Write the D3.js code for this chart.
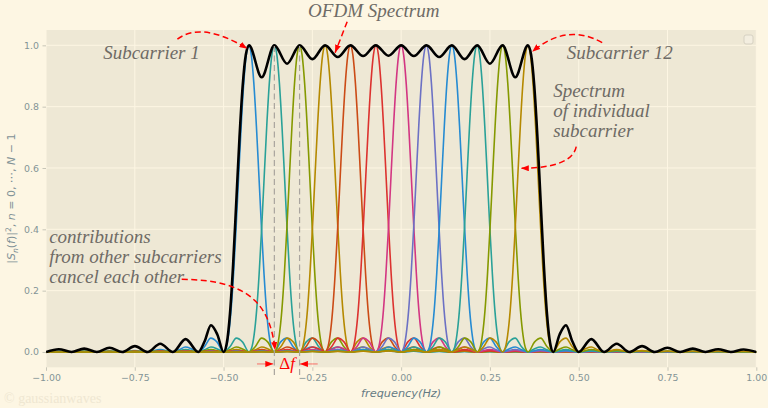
<!DOCTYPE html>
<html>
<head>
<meta charset="utf-8">
<script src="https://cdn.jsdelivr.net/npm/d3@7"></script>
<style>
  body { margin: 0; background: #fdf6e3; }
  svg { display: block; }
</style>
</head>
<body>
<div id="chart"></div>
<script>
// centre frequency of each subcarrier (Hz)
let subcarrierFreq = [-0.429, -0.357, -0.286, -0.214, -0.143, -0.071, 0.000, 0.071, 0.143, 0.214, 0.286, 0.357];
let deltaF = 0.0714;

// shape of one subcarrier |S(f)|^2, offset in units of deltaF (right half, mirrored below)
let pulseBin   = [0, 0.1, 0.2, 0.3, 0.4, 0.5, 0.6, 0.7, 0.8, 0.9, 1, 1.25, 1.5, 1.75, 2, 2.25, 2.5, 2.75, 3, 3.5, 4, 4.5, 5, 5.5, 6, 6.5, 7, 7.5, 8, 8.5, 9, 9.5, 10, 21];
let pulseLevel = [1, 0.968, 0.875, 0.737, 0.573, 0.405, 0.255, 0.135, 0.055, 0.012, 0, 0.032, 0.045, 0.017, 0, 0.010, 0.016, 0.007, 0, 0.008, 0, 0.005, 0, 0.0034, 0, 0.0024, 0, 0.0018, 0, 0.0014, 0, 0.0011, 0, 0];

// OFDM spectrum (black line), position in units of deltaF
let ofdmBin = [-14, -13.5, -13, -12.5, -12, -11.5, -11, -10.5, -10, -9.5, -9, -8.5, -8, -7.75, -7.5, -7.25, -7,
  -6.875, -6.75, -6.625, -6.5, -6.375, -6.25, -6.125, -6, -5.5, -5, -4.5, -4, -3.5, -3, -2.5, -2, -1.5, -1, -0.5,
  0, 0.5, 1, 1.5, 2, 2.5, 3, 3.5, 4, 4.5, 5, 5.125, 5.25, 5.375, 5.5, 5.625, 5.75, 5.875, 6, 6.25, 6.5, 6.75, 7,
  7.5, 8, 8.5, 9, 9.5, 10, 10.5, 11, 11.5, 12, 12.5, 13, 13.5, 14];
let ofdmLevel = [0, 0.009, 0, 0.011, 0, 0.014, 0, 0.019, 0, 0.027, 0, 0.042, 0, 0.035, 0.087, 0.057, 0,
  0.029, 0.125, 0.287, 0.492, 0.699, 0.867, 0.969, 1, 0.896, 1, 0.940, 1, 0.955, 1, 0.962, 1, 0.965, 1, 0.966,
  1, 0.965, 1, 0.962, 1, 0.955, 1, 0.940, 1, 0.896, 1, 0.969, 0.867, 0.699, 0.492, 0.287, 0.125, 0.029, 0, 0.057, 0.087, 0.035, 0,
  0.042, 0, 0.027, 0, 0.019, 0, 0.014, 0, 0.011, 0, 0.009, 0, 0.008, 0];

let xTicks = [-1, -0.75, -0.5, -0.25, 0, 0.25, 0.5, 0.75, 1];
let yTicks = [0, 0.2, 0.4, 0.6, 0.8, 1.0];

let colors = ["#268BD2", "#2AA198", "#859900", "#B58900", "#CB4B16", "#DC322F", "#D33682", "#6C71C4"];

let width = 768, height = 408;
let margin = { top: 30, right: 11.7, bottom: 40.7, left: 46 };

let svg = d3.select("#chart").append("svg")
  .attr("width", width)
  .attr("height", height);

svg.append("rect").attr("width", width).attr("height", height).attr("fill", "#fdf6e3");

let x = d3.scaleLinear().domain([-1, 1]).range([margin.left, width - margin.right]);
let y = d3.scaleLinear().domain([-0.05, 1.05]).range([height - margin.bottom, margin.top]);

let defs = svg.append("defs");
defs.append("clipPath").attr("id", "plot")
  .append("rect")
  .attr("x", x(-1)).attr("y", y(1.05))
  .attr("width", x(1) - x(-1)).attr("height", y(-0.05) - y(1.05));

defs.append("marker")
  .attr("id", "head")
  .attr("viewBox", "0 0 8 6")
  .attr("refX", 8).attr("refY", 3)
  .attr("markerWidth", 8).attr("markerHeight", 6)
  .attr("markerUnits", "userSpaceOnUse")
  .attr("orient", "auto")
  .append("path").attr("d", "M0,0 L8,3 L0,6 z").attr("fill", "#ff0000");

// axes background
svg.append("rect")
  .attr("x", x(-1)).attr("y", y(1.05))
  .attr("width", x(1) - x(-1)).attr("height", y(-0.05) - y(1.05))
  .attr("fill", "#eee8d5");

// grid
let grid = svg.append("g").attr("stroke", "#fdf6e3").attr("stroke-width", 1);
grid.selectAll(".gx").data(xTicks).enter().append("line")
  .attr("x1", d => x(d)).attr("x2", d => x(d))
  .attr("y1", y(-0.05)).attr("y2", y(1.05));
grid.selectAll(".gy").data(yTicks).enter().append("line")
  .attr("x1", x(-1)).attr("x2", x(1))
  .attr("y1", d => y(d)).attr("y2", d => y(d));

// axes
let xAxis = svg.append("g")
  .attr("transform", `translate(0,${y(-0.05)})`)
  .call(d3.axisBottom(x).tickValues(xTicks).tickFormat(d3.format(".2f")).tickSize(3.5).tickPadding(4));
let yAxis = svg.append("g")
  .attr("transform", `translate(${x(-1)},0)`)
  .call(d3.axisLeft(y).tickValues(yTicks).tickFormat(d3.format(".1f")).tickSize(3.5).tickPadding(3.5));

[xAxis, yAxis].forEach(a => {
  a.select(".domain").remove();
  a.selectAll(".tick line").attr("stroke", "#c8c6b8");
  a.selectAll(".tick text")
    .attr("fill", "#839496")
    .attr("font-family", "DejaVu Sans")
    .attr("font-size", "9.4px");
});

// curves
let line = d3.line()
  .x(d => x(d[0]))
  .y(d => y(d[1]))
  .curve(d3.curveMonotoneX);

let pulseShape = [];
for (let i = pulseBin.length - 1; i > 0; i--) pulseShape.push([-pulseBin[i], pulseLevel[i]]);
for (let i = 0; i < pulseBin.length; i++) pulseShape.push([pulseBin[i], pulseLevel[i]]);

let plot = svg.append("g").attr("clip-path", "url(#plot)");

plot.selectAll(".sub")
  .data(subcarrierFreq)
  .enter()
  .append("path")
  .attr("class", "sub")
  .attr("fill", "none")
  .attr("stroke", (d, i) => colors[i % colors.length])
  .attr("stroke-width", 1.6)
  .attr("d", fc => line(pulseShape.map(p => [fc + p[0] * deltaF, p[1]])));

// spacing markers
svg.selectAll(".vl")
  .data([subcarrierFreq[1], subcarrierFreq[2]])
  .enter()
  .append("line")
  .attr("x1", d => x(d)).attr("x2", d => x(d))
  .attr("y1", y(-0.075)).attr("y2", y(1.0))
  .attr("stroke", "#a9a49e")
  .attr("stroke-width", 1.2)
  .attr("stroke-dasharray", "6,3.5");

plot.append("path")
  .attr("fill", "none")
  .attr("stroke", "#000")
  .attr("stroke-width", 2.6)
  .attr("stroke-linejoin", "round")
  .attr("d", line(ofdmBin.map((b, i) => [b * deltaF, ofdmLevel[i]])));

// empty legend box
svg.append("rect")
  .attr("x", 744).attr("y", 35).attr("width", 9).attr("height", 9).attr("rx", 2)
  .attr("fill", "#f3eee0").attr("stroke", "#d6d1c2").attr("stroke-width", 1);

// labels
svg.append("text")
  .attr("x", x(0)).attr("y", 397)
  .attr("text-anchor", "middle")
  .attr("font-family", "DejaVu Sans")
  .attr("font-style", "italic")
  .attr("font-size", "11.3px")
  .attr("fill", "#657b83")
  .text("frequency(Hz)");

let ylab = svg.append("text")
  .attr("transform", `translate(15,${(y(1.05) + y(-0.05)) / 2}) rotate(-90)`)
  .attr("text-anchor", "middle")
  .attr("font-family", "DejaVu Sans")
  .attr("font-size", "11px")
  .attr("fill", "#7f9196");
ylab.append("tspan").text("|");
ylab.append("tspan").attr("font-style", "italic").text("S");
ylab.append("tspan").attr("font-style", "italic").attr("font-size", "7.7px").attr("dy", 2.5).text("n");
ylab.append("tspan").attr("dy", -2.5).text("(");
ylab.append("tspan").attr("font-style", "italic").text("f");
ylab.append("tspan").text(")|");
ylab.append("tspan").attr("font-size", "7.7px").attr("dy", -4.5).text("2");
ylab.append("tspan").attr("dy", 4.5).text(", ");
ylab.append("tspan").attr("font-style", "italic").text("n");
ylab.append("tspan").text(" = 0, \u22ef, ");
ylab.append("tspan").attr("font-style", "italic").text("N");
ylab.append("tspan").text(" \u2212 1");

// annotations
let noteFont = "Liberation Serif";
let noteColor = "#6e6b66";

function note(fx, fy, lines, anchor) {
  let t = svg.append("text")
    .attr("font-family", noteFont)
    .attr("font-style", "italic")
    .attr("font-size", "19px")
    .attr("fill", noteColor)
    .attr("text-anchor", anchor || "start");
  lines.forEach((s, i) => {
    t.append("tspan").attr("x", x(fx)).attr("y", y(fy) + i * 20).text(s);
  });
}

note(-0.839, 0.956, ["Subcarrier 1"]);
note(-0.077, 1.093, ["OFDM Spectrum"], "middle");
note(0.466, 0.956, ["Subcarrier 12"]);
note(0.428, 0.833, ["Spectrum", "of individual", "subcarrier"]);
note(-0.991, 0.355, ["contributions", "from other subcarriers", "cancel each other"]);

function arrow(d, dashed, col) {
  svg.append("path")
    .attr("d", d)
    .attr("fill", "none")
    .attr("stroke", col || "#ff0000")
    .attr("stroke-width", 1.5)
    .attr("stroke-dasharray", dashed ? "6,3.5" : null)
    .attr("marker-end", "url(#head)");
}

let P = (fx, fy) => x(fx) + "," + y(fy);

arrow(`M${P(-0.630, 1.020)} Q${P(-0.562, 1.080)} ${P(-0.433, 0.989)}`, true);
arrow(`M${P(-0.152, 1.077)} L${P(-0.186, 0.976)}`, true);
arrow(`M${P(0.566, 1.009)} Q${P(0.466, 1.074)} ${P(0.369, 0.979)}`, true);
arrow(`M${P(0.493, 0.670)} Q${P(0.481, 0.600)} ${P(0.337, 0.599)}`, true);
arrow(`M${P(-0.618, 0.237)} C${P(-0.426, 0.235)} ${P(-0.369, 0.153)} ${P(-0.355, 0.006)}`, true);

// delta f markers
arrow(`M${P(-0.406, -0.039)} L${P(-0.360, -0.039)}`, false, "rgba(255,0,0,0.35)");
arrow(`M${P(-0.235, -0.039)} L${P(-0.285, -0.039)}`, false, "rgba(255,0,0,0.35)");

let df = svg.append("text")
  .attr("x", x(-0.321)).attr("y", y(-0.054))
  .attr("text-anchor", "middle")
  .attr("font-family", noteFont)
  .attr("font-size", "17px")
  .attr("fill", "#ff0000");
df.append("tspan").text("\u0394");
df.append("tspan").attr("font-style", "italic").text("f");

// watermark
svg.append("text")
  .attr("x", 4).attr("y", 403)
  .attr("font-family", noteFont)
  .attr("font-size", "14px")
  .attr("fill", "#efe7d2")
  .text("\u00a9 gaussianwaves");
</script>
</body>
</html>
